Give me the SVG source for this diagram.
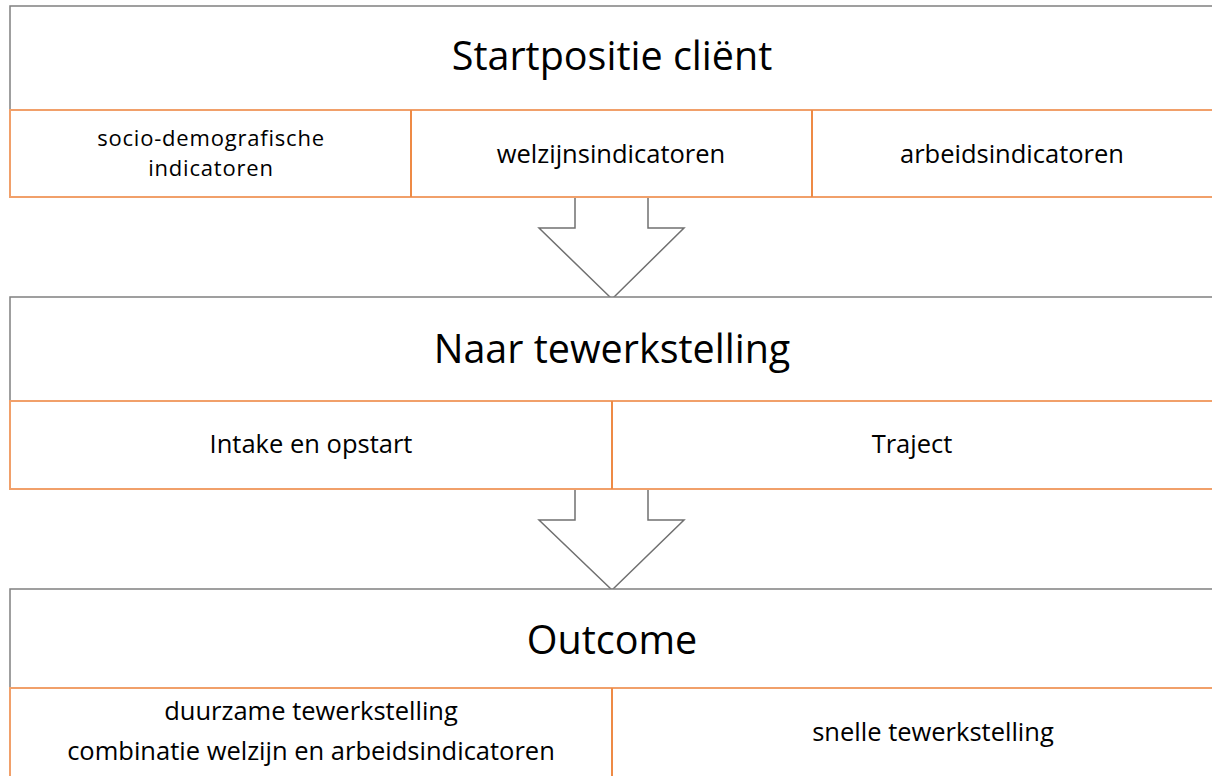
<svg xmlns="http://www.w3.org/2000/svg" width="1212" height="776" viewBox="0 0 1212 776">
<style>
.outer{fill:#fff;stroke:#808080;stroke-width:1.5}
.cell{fill:#fff;stroke:#F1A06A;stroke-width:2}
.div{stroke:#EE8A45;stroke-width:2}
.arrow{fill:#fff;stroke:#707070;stroke-width:1.5}
.t{font-family:"Open Sans","Noto Sans",sans-serif;fill:#000;text-anchor:middle}
.big{font-size:39.5px}
.sm{font-size:25.5px}
.sm2{font-size:22px;letter-spacing:0.8px}
</style>
<rect width="1212" height="776" fill="#fff"/>
<g id="connectors">
<polygon class="arrow" points="575,197 648,197 648,228 684,228 612,299 539,228 575,228"/>
<polygon class="arrow" points="575,489 648,489 648,520 684,520 612,590 539,520 575,520"/>
</g>
<g id="startpositie">
<rect class="outer" x="10" y="6" width="1220" height="191"/>
<text class="t big" x="612" y="70">Startpositie cliënt</text>
<rect class="cell" x="10" y="110" width="1220" height="87"/>
<line class="div" x1="411" y1="110" x2="411" y2="197"/>
<line class="div" x1="812" y1="110" x2="812" y2="197"/>
<text class="t sm2" x="211" y="146">socio-demografische</text>
<text class="t sm2" x="211" y="176">indicatoren</text>
<text class="t sm" x="611" y="163">welzijnsindicatoren</text>
<text class="t sm" x="1012" y="163">arbeidsindicatoren</text>
</g>
<g id="tewerkstelling">
<rect class="outer" x="10" y="297" width="1220" height="192"/>
<text class="t big" x="612" y="363">Naar tewerkstelling</text>
<rect class="cell" x="10" y="401" width="1220" height="88"/>
<line class="div" x1="612" y1="401" x2="612" y2="489"/>
<text class="t sm" x="311" y="453">Intake en opstart</text>
<text class="t sm" x="912" y="453">Traject</text>
</g>
<g id="outcome">
<rect class="outer" x="10" y="589" width="1220" height="200"/>
<text class="t big" x="612" y="654">Outcome</text>
<rect class="cell" x="10" y="688" width="1220" height="100"/>
<line class="div" x1="612" y1="688" x2="612" y2="776"/>
<text class="t sm" x="311" y="720">duurzame tewerkstelling</text>
<text class="t sm" x="311" y="760">combinatie welzijn en arbeidsindicatoren</text>
<text class="t sm" x="933" y="741">snelle tewerkstelling</text>
</g>
</svg>
